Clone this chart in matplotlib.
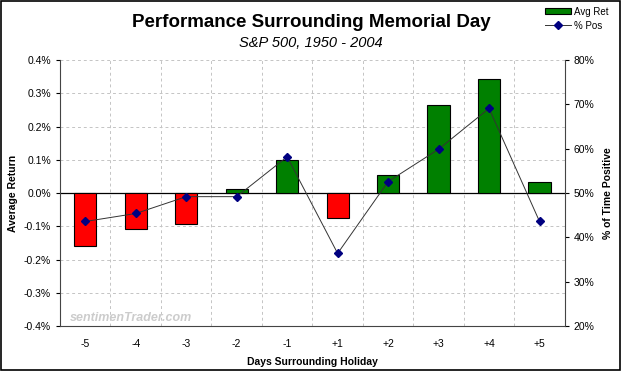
import matplotlib
matplotlib.use("Agg")
import matplotlib.pyplot as plt
from matplotlib.patches import Rectangle, Patch
from matplotlib.ticker import FuncFormatter

plt.rcParams['font.family'] = ['Liberation Sans', 'DejaVu Sans']

# data
days = ['-5', '-4', '-3', '-2', '-1', '+1', '+2', '+3', '+4', '+5']
avg_ret = [-0.16, -0.109, -0.094, 0.012, 0.099, -0.074, 0.054, 0.264, 0.342, 0.032]
pct_pos = [43.6, 45.4, 49.2, 49.2, 58.2, 36.4, 52.6, 59.9, 69.1, 43.6]

fig = plt.figure(figsize=(6.22, 3.71), dpi=100)
fig.patch.set_facecolor('white')
fig.patches.append(Rectangle((0.002, 0.003), 0.995, 0.994, transform=fig.transFigure,
                             fill=False, edgecolor='black', linewidth=1.2))

ax = fig.add_axes([0.0965, 0.121, 0.8115, 0.717])
x = list(range(len(days)))
colors = ['#008000' if v >= 0 else '#ff0000' for v in avg_ret]
ax.bar(x, avg_ret, width=0.44, color=colors, edgecolor='black', linewidth=0.8, zorder=3)
ax.axhline(0, color='black', linewidth=0.9, zorder=2)
ax.set_xlim(-0.5, len(days) - 0.5)
ax.set_ylim(-0.4, 0.4)
ax.set_yticks([-0.4, -0.3, -0.2, -0.1, 0, 0.1, 0.2, 0.3, 0.4])
ax.yaxis.set_major_formatter(FuncFormatter(lambda v, p: f'{v:.1f}%'))
ax.set_xticks([i + 0.5 for i in x[:-1]])
ax.set_xticklabels([])
ax.set_xticks(x, minor=True)
ax.set_xticklabels(days, minor=True)
ax.tick_params(axis='x', which='minor', length=0, pad=9, labelsize=7.5)
ax.tick_params(axis='x', which='major', length=0)
ax.tick_params(axis='y', labelsize=7.5, length=3, direction='out')
ax.grid(True, which='major', color='#c4c4c4', linestyle=(0, (3, 3)), linewidth=0.7, zorder=0)
for s in ['top', 'right']:
    ax.spines[s].set_visible(False)
ax.spines['left'].set_color('#444444')
ax.spines['bottom'].set_color('#444444')
ax.set_ylabel('Average Return', fontsize=7.5, fontweight='bold', labelpad=4)
ax.set_xlabel('Days Surrounding Holiday', fontsize=7.5, fontweight='bold', labelpad=6)

ax2 = ax.twinx()
ax2.plot(x, pct_pos, color='#333333', linewidth=0.7, marker='D', markersize=4,
         markerfacecolor='#000080', markeredgecolor='#000080', zorder=4, label='% Pos')
ax2.set_ylim(20, 80)
ax2.set_yticks([20, 30, 40, 50, 60, 70, 80])
ax2.yaxis.set_major_formatter(FuncFormatter(lambda v, p: f'{v:.0f}%'))
ax2.tick_params(axis='y', labelsize=7.5, length=3, direction='out')
for s in ['top', 'left', 'bottom']:
    ax2.spines[s].set_visible(False)
ax2.spines['right'].set_color('#444444')
ax2.set_ylabel('% of Time Positive', fontsize=7.5, fontweight='bold', labelpad=6)

ax.text(0.02, 0.02, 'sentimenTrader.com', transform=ax.transAxes, fontsize=9,
        color='#cccccc', style='italic', fontweight='bold', zorder=5)

fig.text(0.5, 0.94, 'Performance Surrounding Memorial Day', ha='center', va='center',
         fontsize=13.5, fontweight='bold')
fig.text(0.5, 0.885, 'S&P 500, 1950 - 2004', ha='center', va='center',
         fontsize=10.5, style='italic')

h2, l2 = ax2.get_legend_handles_labels()
bar_handle = Patch(facecolor='#008000', edgecolor='black', linewidth=0.8)
fig.legend([bar_handle] + h2, ['Avg Ret'] + l2, loc='upper right',
           bbox_to_anchor=(0.99, 1.0), frameon=False, fontsize=7, handlelength=2.6,
           handleheight=0.6, labelspacing=0.4, borderaxespad=0.3, handletextpad=0.4)

fig.savefig('out.png', dpi=100)
